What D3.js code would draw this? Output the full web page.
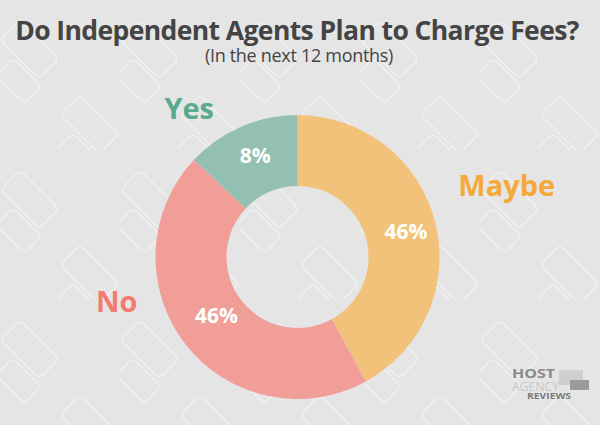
<!DOCTYPE html>
<html><head><meta charset="utf-8">
<script src="https://cdn.jsdelivr.net/npm/d3@7/dist/d3.min.js"></script>
<style>html,body{margin:0;padding:0;background:#e5e5e5;}svg{display:block;}</style>
</head><body>
<svg id="chart" width="600" height="425"></svg>
<script>
const categories = ["Maybe", "No", "Yes"];
const values = [42, 45, 13];
const valueLabels = ["46%", "46%", "8%"];
const sliceColors = ["#f2c27a", "#f29e98", "#93c0b2"];
const nameColors = ["#f5a93a", "#f47a70", "#5aaa8e"];
const titleText = "Do Independent Agents Plan to Charge Fees?";
const subtitleText = "(In the next 12 months)";

const W = 600, H = 425;
const svg = d3.select("#chart");
const defs = svg.append("defs");

// background pattern of outlined speech bubbles
const pat = defs.append("pattern").attr("id", "bg").attr("patternUnits", "userSpaceOnUse")
  .attr("width", 120).attr("height", 150);
pat.append("rect").attr("width", 120).attr("height", 150).attr("fill", "#e5e5e5");
function bubble(g, x, y, w, h) {
  g.append("rect").attr("x", x).attr("y", y).attr("width", w).attr("height", h).attr("rx", 5)
    .attr("fill", "none").attr("stroke", "#f5f5f5").attr("stroke-width", 1);
}
const pg = pat.append("g").attr("transform", "translate(20,20) rotate(45)");
bubble(pg, 0, 0, 55, 28);
bubble(pg, 22, 32, 40, 24);
const pg2 = pat.append("g").attr("transform", "translate(80,95) rotate(45)");
bubble(pg2, 0, 0, 55, 28);
bubble(pg2, 22, 32, 40, 24);
svg.append("rect").attr("width", W).attr("height", H).attr("fill", "url(#bg)");

// title
svg.append("text").attr("x", 297).attr("y", 40).attr("text-anchor", "middle")
  .attr("font-family", "'Open Sans', sans-serif").attr("font-weight", 700)
  .attr("font-size", 26.5).attr("fill", "#444444").attr("letter-spacing", -0.6)
  .text(titleText);
svg.append("text").attr("x", 299).attr("y", 62).attr("text-anchor", "middle")
  .attr("font-family", "'Open Sans', sans-serif").attr("font-weight", 400)
  .attr("font-size", 18).attr("fill", "#444444").attr("letter-spacing", -0.3)
  .text(subtitleText);

// donut
const cx = 297.5, cy = 257, rOuter = 142, rInner = 71;
const pie = d3.pie().sort(null).value(d => d)(values);
const arc = d3.arc().innerRadius(rInner).outerRadius(rOuter);
const labelArc = d3.arc().innerRadius(109).outerRadius(109);
const g = svg.append("g").attr("transform", `translate(${cx},${cy})`);
g.selectAll("path").data(pie).join("path").attr("d", arc)
  .attr("fill", (d, i) => sliceColors[i]);
const valOffsets = [[3, 2], [5, -8], [1, -2]];
g.selectAll("text.val").data(pie).join("text").attr("class", "val")
  .attr("transform", (d, i) => {
    const c = labelArc.centroid(d);
    return `translate(${c[0] + valOffsets[i][0]},${c[1] + valOffsets[i][1]})`;
  })
  .attr("text-anchor", "middle").attr("dy", "0.36em")
  .attr("font-family", "'Open Sans', sans-serif").attr("font-weight", 700)
  .attr("font-size", 21).attr("fill", "#ffffff")
  .text((d, i) => valueLabels[i]);

// category names placed outside the ring
const nameArc = d3.arc().innerRadius(rOuter + 40).outerRadius(rOuter + 40);
const nameOffsets = [[33, -26], [-37, -67], [-36, 19]];
g.selectAll("text.name").data(pie).join("text").attr("class", "name")
  .attr("transform", (d, i) => {
    const c = nameArc.centroid(d);
    return `translate(${c[0] + nameOffsets[i][0]},${c[1] + nameOffsets[i][1]})`;
  })
  .attr("text-anchor", "middle").attr("dy", "0.36em")
  .attr("font-family", "'Open Sans', sans-serif").attr("font-weight", 700)
  .attr("font-size", 29).attr("fill", (d, i) => nameColors[i])
  .text((d, i) => categories[i]);

// logo
const lg = svg.append("g").attr("transform", "translate(512,368)");
lg.append("rect").attr("x", 47).attr("y", 2).attr("width", 24).attr("height", 15).attr("fill", "#cfcfcf");
lg.append("rect").attr("x", 58).attr("y", 12).attr("width", 19).attr("height", 10).attr("fill", "#9a9a9a");
lg.append("text").attr("x", 0).attr("y", 10).attr("font-family", "'Open Sans', sans-serif")
  .attr("font-weight", 700).attr("font-size", 13).attr("fill", "#8a8a8a")
  .attr("textLength", 43).attr("lengthAdjust", "spacingAndGlyphs").text("HOST");
lg.append("text").attr("x", 0).attr("y", 23).attr("font-family", "'Open Sans', sans-serif")
  .attr("font-weight", 300).attr("font-size", 13).attr("fill", "#b8b8b8")
  .attr("textLength", 47).attr("lengthAdjust", "spacingAndGlyphs").text("AGENCY");
lg.append("text").attr("x", 15).attr("y", 31).attr("font-family", "'Open Sans', sans-serif")
  .attr("font-weight", 700).attr("font-size", 9.5).attr("fill", "#7a7a7a")
  .attr("textLength", 44).attr("lengthAdjust", "spacingAndGlyphs").text("REVIEWS");
</script>
</body></html>
